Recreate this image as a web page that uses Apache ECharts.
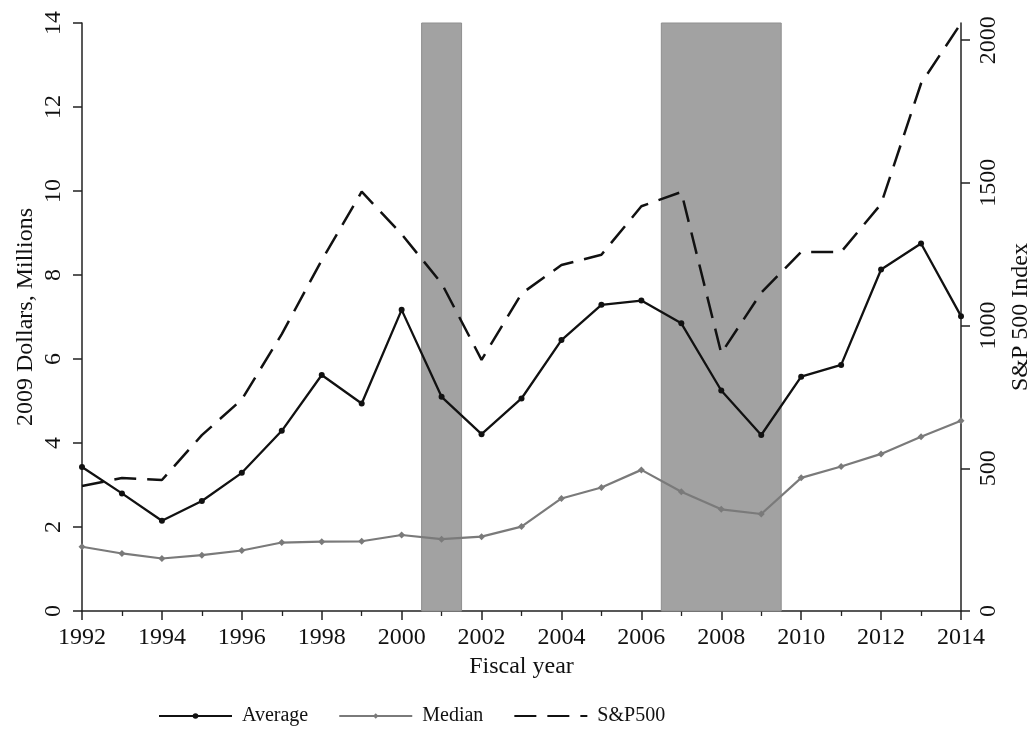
<!DOCTYPE html>
<html>
<head>
<meta charset="utf-8">
<script src="https://cdn.jsdelivr.net/npm/echarts@6/dist/echarts.min.js"></script>
<style>html,body{margin:0;padding:0;background:#fff}#c{width:1033px;height:744px}</style>
</head>
<body>
<div id="c"></div>
<script>
var years = [1992,1993,1994,1995,1996,1997,1998,1999,2000,2001,2002,2003,2004,2005,2006,2007,2008,2009,2010,2011,2012,2013,2014];
var average = [3.43,2.80,2.15,2.62,3.29,4.29,5.62,4.94,7.17,5.10,4.21,5.06,6.45,7.29,7.39,6.85,5.25,4.19,5.58,5.86,8.13,8.75,7.02];
var median = [1.53,1.37,1.25,1.33,1.44,1.63,1.65,1.66,1.81,1.71,1.77,2.01,2.68,2.94,3.36,2.84,2.42,2.31,3.17,3.44,3.74,4.15,4.53];
var sp500 = [438,466,459,616,741,970,1229,1469,1320,1148,880,1112,1212,1248,1418,1468,903,1115,1258,1258,1426,1848,2059];
var recessions = [[2000.5,2001.5],[2006.5,2009.5]];
var rightTicks = [0,500,1000,1500,2000];

function pairs(vals){ return years.map(function(y,i){ return [y, vals[i]]; }); }
function plain(v){ return String(v); }

var FONT = 'Liberation Serif';
var chart = echarts.init(document.getElementById('c'), null, {renderer:'canvas'});
chart.setOption({
  animation:false,
  backgroundColor:'#fff',
  textStyle:{fontFamily:FONT,color:'#111'},
  grid:{left:82,right:72,top:23,bottom:133,containLabel:false,outerBoundsMode:'none'},
  legend:{
    left:158, top:706, padding:0, itemWidth:73, itemHeight:7, itemGap:30,
    textStyle:{fontFamily:FONT,fontSize:20,color:'#111',padding:[0,0,0,5]},
    data:['Average','Median',{name:'S&P500',itemStyle:{opacity:0}}]
  },
  xAxis:{
    type:'value', min:1992, max:2014, interval:2,
    name:'Fiscal year', nameLocation:'middle', nameGap:40,
    nameTextStyle:{fontFamily:FONT,fontSize:24,color:'#111'},
    axisLine:{onZero:false,lineStyle:{color:'#222',width:1.5}},
    axisTick:{show:true,length:9,lineStyle:{color:'#222',width:1.5}},
    minorTick:{show:true,splitNumber:2,length:5,lineStyle:{color:'#222',width:1.3}},
    axisLabel:{fontFamily:FONT,fontSize:24,color:'#111',margin:15,formatter:plain},
    splitLine:{show:false}
  },
  yAxis:[{
    type:'value', min:0, max:14, interval:2, position:'left',
    name:'2009 Dollars, Millions', nameLocation:'middle', nameGap:44, nameRotate:90,
    nameMoveOverlap:false,
    nameTextStyle:{fontFamily:FONT,fontSize:24,color:'#111'},
    axisLine:{show:true,lineStyle:{color:'#222',width:1.5}},
    axisTick:{show:true,length:9,lineStyle:{color:'#222',width:1.5}},
    axisLabel:{fontFamily:FONT,fontSize:24,color:'#111',rotate:90,margin:16,formatter:plain},
    splitLine:{show:false}
  },{
    type:'value', min:0, max:2060, interval:500, position:'right',
    name:'S&P 500 Index', nameLocation:'middle', nameGap:46, nameRotate:90,
    nameTextStyle:{fontFamily:FONT,fontSize:24,color:'#111'},
    axisLine:{show:true,lineStyle:{color:'#222',width:1.5}},
    axisTick:{show:true,length:9,lineStyle:{color:'#222',width:1.5},customValues:rightTicks},
    axisLabel:{fontFamily:FONT,fontSize:24,color:'#111',rotate:90,margin:16,customValues:rightTicks,formatter:plain},
    splitLine:{show:false}
  }],
  series:[{
    name:'recession', type:'line', data:[], z:1, silent:true,
    markArea:{silent:true,itemStyle:{color:'#a2a2a2',borderColor:'#8f8f8f',borderWidth:1},
      data: recessions.map(function(r){ return [{xAxis:r[0]},{xAxis:r[1]}]; })}
  },{
    name:'S&P500', type:'line', yAxisIndex:1, z:3,
    data:pairs(sp500), showSymbol:false, symbol:'none',
    lineStyle:{color:'#111',width:2.5,type:[22,11]},
    itemStyle:{color:'#111'}
  },{
    name:'Median', type:'line', z:4,
    data:pairs(median), symbol:'diamond', symbolSize:7,
    lineStyle:{color:'#7a7a7a',width:2.2},
    itemStyle:{color:'#7a7a7a'}
  },{
    name:'Average', type:'line', z:5,
    data:pairs(average), symbol:'circle', symbolSize:6,
    lineStyle:{color:'#111',width:2.3},
    itemStyle:{color:'#111'}
  }]
});
</script>
</body>
</html>
